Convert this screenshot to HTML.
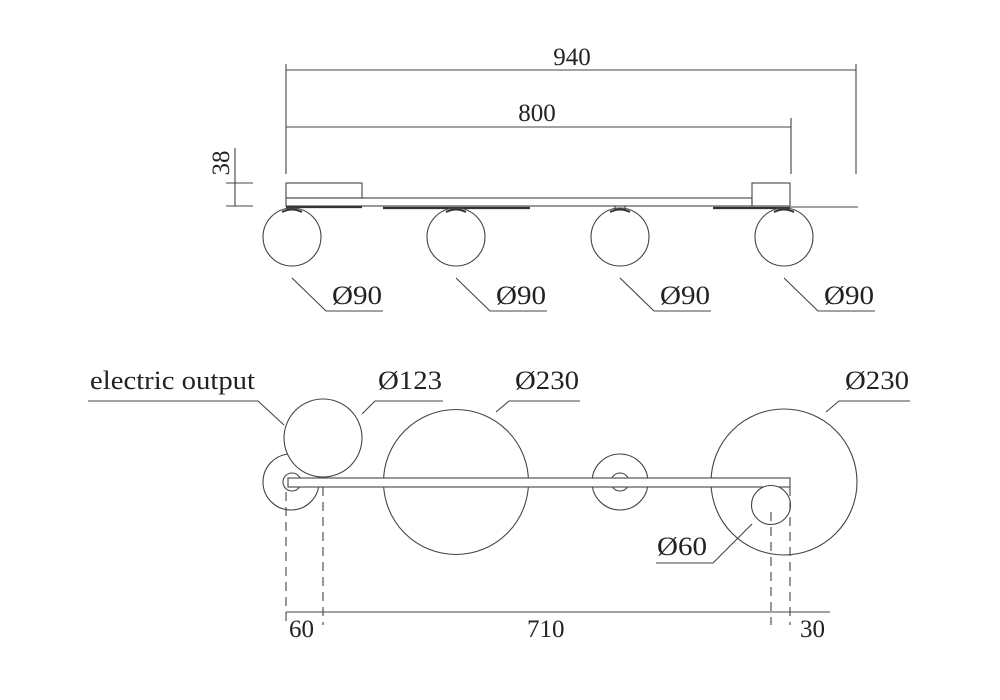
<!DOCTYPE html>
<html><head><meta charset="utf-8"><style>
html,body{margin:0;padding:0;background:#fff;}
svg{display:block}
text{font-family:"Liberation Serif",serif;fill:#222;font-size:25px;}
.l{font-size:26px;}
</style></head><body>
<svg width="1000" height="700" viewBox="0 0 1000 700" xmlns="http://www.w3.org/2000/svg">
<g stroke="#444" stroke-width="1.1" fill="none">
<line x1="286" y1="70" x2="856" y2="70"/>
<line x1="286" y1="64" x2="286" y2="174"/>
<line x1="856" y1="64" x2="856" y2="174"/>
<line x1="286" y1="127" x2="791" y2="127"/>
<line x1="791" y1="118" x2="791" y2="174"/>
<line x1="235" y1="148" x2="235" y2="206"/>
<line x1="226" y1="183" x2="253" y2="183"/>
<line x1="226" y1="206" x2="253" y2="206"/>
<rect x="286" y="183" width="76" height="15"/>
<rect x="286" y="198" width="466" height="8"/>
<rect x="752" y="183" width="38" height="23"/>
<line x1="790" y1="207" x2="858" y2="207"/>
</g>
<g stroke="#333" stroke-width="2.2">
<line x1="286" y1="207" x2="362" y2="207"/>
<line x1="383" y1="208" x2="530" y2="208"/>
<line x1="713" y1="208" x2="790" y2="208"/>
</g>
<g stroke="#444" stroke-width="1.1" fill="none">
<circle cx="292" cy="237" r="29"/>
<circle cx="456" cy="237" r="29"/>
<circle cx="620" cy="237" r="29"/>
<circle cx="784" cy="237" r="29"/>
<path d="M288 206 v3 M296 206 v3"/>
<path d="M615 206 v3 M625 206 v3"/>
<polyline points="292,278 326,311 383,311"/>
<polyline points="456,278 490,311 547,311"/>
<polyline points="620,278 654,311 711,311"/>
<polyline points="784,278 818,311 875,311"/>
</g>
<g stroke="#333" stroke-width="2" fill="none">
<path d="M282 212 q10 -5 20 0"/><path d="M446 212 q10 -5 20 0"/><path d="M610 212 q10 -5 20 0"/><path d="M774 212 q10 -5 20 0"/>
</g>
<text x="572" y="65" text-anchor="middle">940</text>
<text x="537" y="121" text-anchor="middle">800</text>
<text transform="translate(229,163) rotate(-90)" text-anchor="middle">38</text>
<text class="l" x="332" y="304" textLength="50" lengthAdjust="spacingAndGlyphs">Ø90</text>
<text class="l" x="496" y="304" textLength="50" lengthAdjust="spacingAndGlyphs">Ø90</text>
<text class="l" x="660" y="304" textLength="50" lengthAdjust="spacingAndGlyphs">Ø90</text>
<text class="l" x="824" y="304" textLength="50" lengthAdjust="spacingAndGlyphs">Ø90</text>

<g stroke="#444" stroke-width="1.1" fill="none">
<circle cx="291" cy="482" r="28"/>
<circle cx="323" cy="438" r="39" fill="#fff"/>
<circle cx="456" cy="482" r="72.5"/>
<circle cx="620" cy="482" r="28"/>
<circle cx="620" cy="482" r="9"/>
<circle cx="784" cy="482" r="73"/>
<circle cx="292" cy="482" r="9" fill="#fff"/>
<rect x="288" y="478" width="502" height="9" fill="#fff"/>
<circle cx="771" cy="505" r="19.5" fill="#fff"/>
<g stroke-dasharray="9,6">
<line x1="286" y1="492" x2="286" y2="625"/>
<line x1="323" y1="487" x2="323" y2="625"/>
<line x1="771" y1="512" x2="771" y2="625"/>
<line x1="790" y1="487" x2="790" y2="625"/>
</g>
<line x1="286" y1="612" x2="830" y2="612"/>
<polyline points="88,401 258,401 284,425"/>
<polyline points="362,414 375,401 443,401"/>
<polyline points="496,412 509,401 580,401"/>
<polyline points="826,412 839,401 910,401"/>
<polyline points="752,524 713,563 656,563"/>
</g>
<text class="l" x="90" y="389" textLength="165" lengthAdjust="spacingAndGlyphs">electric output</text>
<text class="l" x="378" y="389" textLength="64" lengthAdjust="spacingAndGlyphs">Ø123</text>
<text class="l" x="515" y="389" textLength="64" lengthAdjust="spacingAndGlyphs">Ø230</text>
<text class="l" x="845" y="389" textLength="64" lengthAdjust="spacingAndGlyphs">Ø230</text>
<text class="l" x="657" y="555" textLength="50" lengthAdjust="spacingAndGlyphs">Ø60</text>
<text x="289" y="637">60</text>
<text x="527" y="637">710</text>
<text x="800" y="637">30</text>
</svg>
</body></html>
